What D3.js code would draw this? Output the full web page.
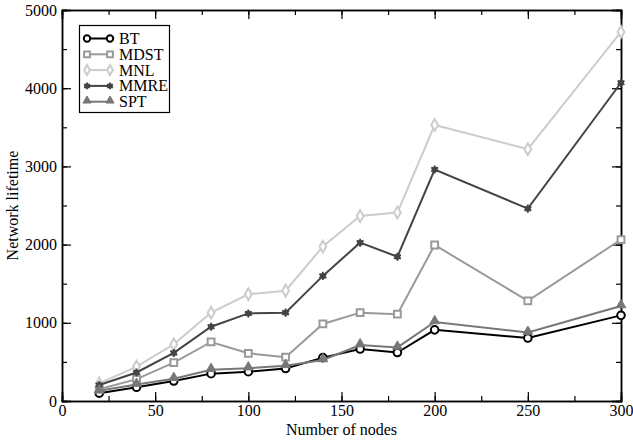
<!DOCTYPE html>
<html>
<head>
<meta charset="utf-8">
<script src="https://cdn.jsdelivr.net/npm/d3@7"></script>
<style>
body { margin: 0; background: #fff; }
svg text { font-family: "Liberation Serif", "DejaVu Serif", serif; fill: #000; }
</style>
</head>
<body>
<div id="chart"></div>
<script>
// datos
var nodes = [20, 40, 60, 80, 100, 120, 140, 160, 180, 200, 250, 300];
var bt   = [100, 175, 255, 350, 375, 415, 555, 665, 620, 910, 805, 1095];
var mdst = [150, 280, 490, 755, 610, 560, 985, 1130, 1110, 1995, 1280, 2065];
var mnl  = [225, 440, 725, 1130, 1365, 1410, 1975, 2365, 2410, 3530, 3220, 4720];
var mmre = [205, 365, 615, 950, 1120, 1130, 1600, 2025, 1845, 2960, 2460, 4070];
var spt  = [130, 210, 285, 400, 420, 450, 525, 715, 685, 1010, 875, 1215];

var names = ["BT", "MDST", "MNL", "MMRE", "SPT"];
var xTicks = [0, 50, 100, 150, 200, 250, 300];
var yTicks = [0, 1000, 2000, 3000, 4000, 5000];

var series = [
	{name: "BT", values: bt, color: "#000000", marker: "circle"},
	{name: "MDST", values: mdst, color: "#999999", marker: "square"},
	{name: "MNL", values: mnl, color: "#cccccc", marker: "diamond"},
	{name: "MMRE", values: mmre, color: "#444444", marker: "star"},
	{name: "SPT", values: spt, color: "#777777", marker: "triangle"}
];

var svg_w = 633, svg_h = 445;
var m = {left: 62, right: 12, top: 10, bottom: 44};

var svg = d3.select("#chart").append("svg")
	.attr("width", svg_w)
	.attr("height", svg_h);

var x = d3.scaleLinear().domain([0, 300]).range([m.left, svg_w - m.right]);
var y = d3.scaleLinear().domain([0, 5000]).range([svg_h - m.bottom, m.top]);

// ejes (ticks hacia dentro en los cuatro lados)
var minorX = d3.range(0, 301, 25), minorY = d3.range(0, 5001, 500);

svg.append("g")
	.attr("transform", "translate(0," + y(0) + ")")
	.call(d3.axisBottom(x).tickValues(minorX).tickSize(-5).tickFormat(""));
svg.append("g")
	.attr("transform", "translate(0," + y(0) + ")")
	.call(d3.axisBottom(x).tickValues(xTicks).tickSize(-9).tickPadding(4).tickFormat(d3.format("d")));
svg.append("g")
	.attr("transform", "translate(0," + y(5000) + ")")
	.call(d3.axisTop(x).tickValues(minorX).tickSize(-5).tickFormat(""));
svg.append("g")
	.attr("transform", "translate(0," + y(5000) + ")")
	.call(d3.axisTop(x).tickValues(xTicks).tickSize(-9).tickFormat(""));

svg.append("g")
	.attr("transform", "translate(" + x(0) + ",0)")
	.call(d3.axisLeft(y).tickValues(minorY).tickSize(-5).tickFormat(""));
svg.append("g")
	.attr("transform", "translate(" + x(0) + ",0)")
	.call(d3.axisLeft(y).tickValues(yTicks).tickSize(-9).tickPadding(5).tickFormat(d3.format("d")));
svg.append("g")
	.attr("transform", "translate(" + x(300) + ",0)")
	.call(d3.axisRight(y).tickValues(minorY).tickSize(-5).tickFormat(""));
svg.append("g")
	.attr("transform", "translate(" + x(300) + ",0)")
	.call(d3.axisRight(y).tickValues(yTicks).tickSize(-9).tickFormat(""));

svg.selectAll(".domain").attr("stroke", "#000").attr("stroke-width", 1.5);
svg.selectAll(".tick line").attr("stroke", "#000").attr("stroke-width", 1.2);
svg.selectAll(".tick text")
	.style("font-family", "'Liberation Serif', serif")
	.style("font-size", "16px")
	.attr("fill", "#000");

// titulos
svg.append("text")
	.attr("x", (x(0) + x(300)) / 2)
	.attr("y", 435)
	.attr("text-anchor", "middle")
	.style("font-size", "16px")
	.text("Number of nodes");

svg.append("text")
	.attr("transform", "translate(18," + (y(2500)) + ") rotate(-90)")
	.attr("text-anchor", "middle")
	.style("font-size", "16px")
	.text("Network lifetime");

// marcadores
function drawMarker(g, kind, color, cx, cy, k) {
	k = k || 1;
	if (kind == "circle") {
		g.append("circle").attr("cx", cx).attr("cy", cy).attr("r", 3.8 * k)
			.attr("fill", "#fff").attr("stroke", color).attr("stroke-width", 2);
	} else if (kind == "square") {
		g.append("path").attr("d", d3.symbol(d3.symbolSquare, 46 * k * k)())
			.attr("transform", "translate(" + cx + "," + cy + ")")
			.attr("fill", "#fff").attr("stroke", color).attr("stroke-width", 2);
	} else if (kind == "diamond") {
		g.append("path").attr("d", d3.symbol(d3.symbolDiamond, 40 * k * k)())
			.attr("transform", "translate(" + cx + "," + cy + ")")
			.attr("fill", "#fff").attr("stroke", color).attr("stroke-width", 2);
	} else if (kind == "star") {
		g.append("circle").attr("cx", cx).attr("cy", cy).attr("r", 3 * k)
			.attr("fill", color);
		g.append("path").attr("d", d3.symbol(d3.symbolAsterisk, 45 * k * k)())
			.attr("transform", "translate(" + cx + "," + cy + ")")
			.attr("fill", "none").attr("stroke", color).attr("stroke-width", 1.8);
	} else if (kind == "triangle") {
		g.append("path").attr("d", d3.symbol(d3.symbolTriangle, 40 * k * k)())
			.attr("transform", "translate(" + cx + "," + (cy - 1) + ")")
			.attr("fill", color).attr("stroke", color).attr("stroke-width", 1);
	}
}

var line = d3.line()
	.x(function(d, i) { return x(nodes[i]); })
	.y(function(d) { return y(d); });

series.forEach(function(s) {
	var g = svg.append("g").attr("class", "serie");
	g.append("path")
		.datum(s.values)
		.attr("d", line)
		.attr("fill", "none")
		.attr("stroke", s.color)
		.attr("stroke-width", 2);
	s.values.forEach(function(v, i) {
		drawMarker(g, s.marker, s.color, x(nodes[i]), y(v));
	});
});

// leyenda
var legend = svg.append("g").attr("id", "legend");
legend.append("rect")
	.attr("x", 79.5).attr("y", 25.5)
	.attr("width", 90).attr("height", 87)
	.attr("fill", "#fff").attr("stroke", "#000").attr("stroke-width", 1.2);

series.forEach(function(s, i) {
	var ly = 38.5 + i * 15.8;
	legend.append("line")
		.attr("x1", 87).attr("x2", 110)
		.attr("y1", ly).attr("y2", ly)
		.attr("stroke", s.color).attr("stroke-width", 2);
	drawMarker(legend, s.marker, s.color, 87, ly, 0.85);
	drawMarker(legend, s.marker, s.color, 110, ly, 0.85);
	legend.append("text")
		.attr("x", 119).attr("y", ly + 5.5)
		.style("font-size", "16px")
		.text(names[i]);
});
</script>
</body>
</html>
